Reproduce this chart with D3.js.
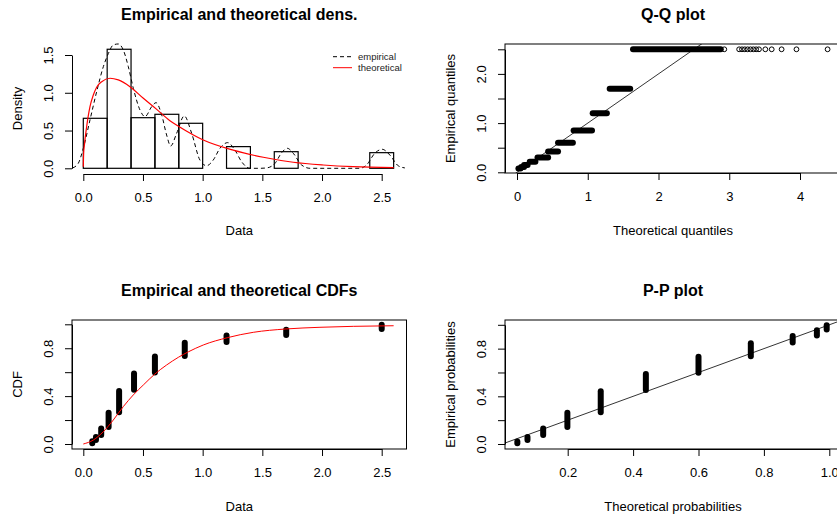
<!DOCTYPE html>
<html>
<head>
<meta charset="utf-8">
<script src="https://cdn.jsdelivr.net/npm/d3@7"></script>
<style>
body { margin: 0; background: #fff; }
svg { display: block; font-family: "Liberation Sans", Arial, sans-serif; }
</style>
</head>
<body>
<script>
// distinct observed values and the empirical cdf span of each group
var values = [0.075, 0.106, 0.15, 0.212, 0.3, 0.425, 0.6, 0.85, 1.2, 1.7, 2.5];
var ecdfLow = [0.006, 0.034, 0.075, 0.143, 0.266, 0.453, 0.598, 0.736, 0.852, 0.91, 0.96];
var ecdfHigh = [0.022, 0.059, 0.13, 0.262, 0.443, 0.588, 0.731, 0.845, 0.906, 0.955, 0.997];
// fitted cdf at each value (P-P plot x)
var theoProb = [0.046, 0.077, 0.125, 0.199, 0.301, 0.439, 0.6, 0.76, 0.888, 0.962, 0.992];
// theoretical quantile span of each group (Q-Q plot x)
var qqLow = [0.02, 0.06, 0.1, 0.18, 0.29, 0.44, 0.58, 0.8, 1.07, 1.31, 1.64];
var qqHigh = [0.05, 0.1, 0.15, 0.26, 0.44, 0.58, 0.79, 1.06, 1.27, 1.6, 2.88];
var qqTail = [2.93, 3.14, 3.18, 3.22, 3.26, 3.3, 3.34, 3.38, 3.42, 3.51, 3.6, 3.74, 3.95, 4.39];

// histogram
var histBreaks = [0, 0.2, 0.4, 0.6, 0.8, 1.0, 1.2, 1.4, 1.6, 1.8, 2.0, 2.2, 2.4, 2.6];
var histDensity = [0.662, 1.576, 0.67, 0.715, 0.596, 0, 0.287, 0, 0.22, 0, 0, 0, 0.207];

// empirical (kernel) density
var kdeX = [-0.089, -0.042, 0, 0.056, 0.112, 0.168, 0.21, 0.251, 0.293, 0.335, 0.377, 0.419, 0.475, 0.517, 0.573, 0.609, 0.657, 0.698, 0.732, 0.782, 0.846, 0.908, 0.977, 1.033, 1.089, 1.145, 1.209, 1.27, 1.326, 1.396, 1.48, 1.536, 1.606, 1.662, 1.709, 1.759, 1.829, 1.899, 2.317, 2.373, 2.443, 2.504, 2.568, 2.638, 2.694];
var kdeY = [0.005, 0.066, 0.265, 0.64, 1.015, 1.346, 1.52, 1.633, 1.646, 1.567, 1.346, 1.06, 0.772, 0.684, 0.816, 0.869, 0.706, 0.441, 0.295, 0.463, 0.693, 0.463, 0.11, 0.034, 0.11, 0.265, 0.34, 0.242, 0.088, 0, 0, 0.005, 0.066, 0.207, 0.265, 0.199, 0.044, 0, 0, 0.044, 0.2, 0.252, 0.176, 0.034, 0.005];

// fitted density
var densX = [0, 0.003, 0.008, 0.028, 0.056, 0.084, 0.112, 0.154, 0.224, 0.293, 0.391, 0.503, 0.615, 0.726, 0.804, 1.005, 1.256, 1.508, 1.759, 2.01, 2.261, 2.6];
var densY = [0.02, 0.2, 0.29, 0.55, 0.816, 0.97, 1.073, 1.147, 1.192, 1.17, 1.081, 0.927, 0.78, 0.63, 0.55, 0.375, 0.24, 0.146, 0.08, 0.044, 0.022, 0.01];

// fitted cdf
var cdfX = [0, 0.084, 0.168, 0.251, 0.335, 0.419, 0.503, 0.6, 0.698, 0.796, 0.88, 1.005, 1.206, 1.424, 1.698, 1.983, 2.262, 2.6];
var cdfY = [0, 0.033, 0.103, 0.2, 0.312, 0.41, 0.493, 0.585, 0.66, 0.724, 0.77, 0.827, 0.888, 0.933, 0.961, 0.975, 0.983, 0.988];

var dataTicks = [0, 0.5, 1, 1.5, 2, 2.5];

var svg = d3.select('body').append('svg')
  .attr('width', 837)
  .attr('height', 519);

var col = [{ x0: 72, x1: 406.5 }, { x0: 505, x1: 841 }];
var row = [{ y0: 44, y1: 173, title: 19.5 }, { y0: 320, y1: 449, title: 295.5 }];

var styleAxis = function(a) {
  a.attr('font-size', 13).attr('font-family', null);
  a.selectAll('line').attr('stroke', '#000');
  a.select('.domain').attr('stroke', '#000');
};

var xAxis = function(scale, y, ticks, fmt) {
  var a = svg.append('g')
    .attr('transform', 'translate(0,' + y + ')')
    .call(d3.axisBottom(scale).tickValues(ticks).tickFormat(fmt).tickSize(7).tickSizeOuter(0));
  a.selectAll('text').attr('y', 23.7).attr('dy', null).attr('dominant-baseline', 'central');
  styleAxis(a);
};

var yAxis = function(scale, x, ticks, fmt) {
  var a = svg.append('g')
    .attr('transform', 'translate(' + x + ',0)')
    .call(d3.axisLeft(scale).tickValues(ticks).tickFormat(fmt).tickSize(7).tickSizeOuter(0));
  a.selectAll('text')
    .attr('x', 0).attr('dy', null)
    .attr('transform', 'translate(-23.5,0) rotate(-90)')
    .attr('text-anchor', 'middle')
    .attr('dominant-baseline', 'central');
  styleAxis(a);
};

var labels = function(c, r, title, xlab, ylab) {
  var cx = (c.x0 + c.x1) / 2;
  svg.append('text').attr('x', cx).attr('y', r.title)
    .attr('text-anchor', 'middle').attr('font-weight', 'bold').attr('font-size', 16)
    .text(title);
  svg.append('text').attr('x', cx).attr('y', r.y1 + 57)
    .attr('text-anchor', 'middle').attr('dominant-baseline', 'central').attr('font-size', 13)
    .text(xlab);
  svg.append('text')
    .attr('transform', 'translate(' + (c.x0 - 55) + ',' + ((r.y0 + r.y1) / 2) + ') rotate(-90)')
    .attr('text-anchor', 'middle').attr('dominant-baseline', 'central').attr('font-size', 13)
    .text(ylab);
};

var box = function(c, r, id) {
  svg.append('clipPath').attr('id', id).append('rect')
    .attr('x', c.x0).attr('y', r.y0).attr('width', c.x1 - c.x0).attr('height', r.y1 - r.y0);
  svg.append('rect')
    .attr('x', c.x0).attr('y', r.y0).attr('width', c.x1 - c.x0).attr('height', r.y1 - r.y0)
    .attr('fill', 'none').attr('stroke', '#000');
  return svg.append('g').attr('clip-path', 'url(#' + id + ')');
};

var fmt1 = d3.format('.1f');
var onlyEvery = function(keep) {
  return function(d) { return keep.indexOf(d) >= 0 ? fmt1(d) : ''; };
};

// thick stacks of overlapping points
var stacks = function(g, segs) {
  g.selectAll(null).data(segs).enter().append('line')
    .attr('x1', function(d) { return d[0]; })
    .attr('y1', function(d) { return d[1]; })
    .attr('x2', function(d) { return d[2]; })
    .attr('y2', function(d) { return d[3]; })
    .attr('stroke', '#000')
    .attr('stroke-width', 6)
    .attr('stroke-linecap', 'round');
};

// ---------- panel 1: densities ----------
(function() {
  var c = col[0], r = row[0];
  var x = d3.scaleLinear().domain([0, 2.5]).range([83.3, 381.7]);
  var y = d3.scaleLinear().domain([0, 1.5]).range([168.3, 55]);

  svg.append('g').selectAll('rect').data(histDensity).enter().append('rect')
    .attr('x', function(d, i) { return x(histBreaks[i]); })
    .attr('y', function(d) { return y(d); })
    .attr('width', function(d, i) { return x(histBreaks[i + 1]) - x(histBreaks[i]); })
    .attr('height', function(d) { return y(0) - y(d); })
    .attr('fill', 'none')
    .attr('stroke', '#000')
    .attr('stroke-width', 1.2);

  var line = d3.line()
    .x(function(d) { return x(d[0]); })
    .y(function(d) { return y(d[1]); })
    .curve(d3.curveMonotoneX);

  svg.append('path')
    .attr('d', line(d3.zip(kdeX, kdeY)))
    .attr('fill', 'none').attr('stroke', '#000').attr('stroke-dasharray', '4,3');

  svg.append('path')
    .attr('d', line(d3.zip(densX, densY)))
    .attr('fill', 'none').attr('stroke', '#f00').attr('stroke-width', 1.2);

  xAxis(x, r.y1 + 1, dataTicks, fmt1);
  yAxis(y, c.x0, [0, 0.5, 1, 1.5], fmt1);
  labels(c, r, 'Empirical and theoretical dens.', 'Data', 'Density');

  var legend = [
    { name: 'empirical', color: '#000', dash: '4,3' },
    { name: 'theoretical', color: '#f00', dash: null }
  ];
  var lg = svg.append('g').selectAll('g').data(legend).enter().append('g')
    .attr('transform', function(d, i) { return 'translate(333,' + (56.7 + i * 11) + ')'; });
  lg.append('line').attr('x1', 0).attr('x2', 19)
    .attr('stroke', function(d) { return d.color; })
    .attr('stroke-dasharray', function(d) { return d.dash; });
  lg.append('text').attr('x', 25).attr('dominant-baseline', 'central')
    .attr('font-size', 9.5).attr('fill', '#222')
    .text(function(d) { return d.name; });
})();

// ---------- panel 2: Q-Q plot ----------
(function() {
  var c = col[1], r = row[0];
  var x = d3.scaleLinear().domain([0, 4]).range([517, 800]);
  var y = d3.scaleLinear().domain([0, 2.5]).range([172.3, 49.3]);
  var g = box(c, r, 'clip-qq');

  g.append('line')
    .attr('x1', x(-1)).attr('y1', y(-1)).attr('x2', x(5)).attr('y2', y(5))
    .attr('stroke', '#000').attr('stroke-width', 0.8);

  stacks(g, values.map(function(v, i) {
    return [x(qqLow[i]), y(v), x(qqHigh[i]), y(v)];
  }));

  g.selectAll('circle').data(qqTail).enter().append('circle')
    .attr('cx', function(d) { return x(d); })
    .attr('cy', y(values[values.length - 1]))
    .attr('r', 2.4)
    .attr('fill', 'none').attr('stroke', '#000');

  xAxis(x, r.y1, [0, 1, 2, 3, 4], d3.format('d'));
  yAxis(y, c.x0, [0, 0.5, 1, 1.5, 2, 2.5], onlyEvery([0, 1, 2]));
  labels(c, r, 'Q-Q plot', 'Theoretical quantiles', 'Empirical quantiles');
})();

// ---------- panel 3: CDFs ----------
(function() {
  var c = col[0], r = row[1];
  var x = d3.scaleLinear().domain([0, 2.5]).range([83.3, 381.7]);
  var y = d3.scaleLinear().domain([0, 1]).range([444, 324.3]);
  var g = box(c, r, 'clip-cdf');

  stacks(g, values.map(function(v, i) {
    return [x(v), y(ecdfLow[i]), x(v), y(ecdfHigh[i])];
  }));

  g.append('path')
    .attr('d', d3.line()
      .x(function(d) { return x(d[0]); })
      .y(function(d) { return y(d[1]); })
      .curve(d3.curveMonotoneX)(d3.zip(cdfX, cdfY)))
    .attr('fill', 'none').attr('stroke', '#f00');

  xAxis(x, r.y1, dataTicks, fmt1);
  yAxis(y, c.x0, [0, 0.2, 0.4, 0.6, 0.8, 1], onlyEvery([0, 0.4, 0.8]));
  labels(c, r, 'Empirical and theoretical CDFs', 'Data', 'CDF');
})();

// ---------- panel 4: P-P plot ----------
(function() {
  var c = col[1], r = row[1];
  var x = d3.scaleLinear().domain([0.2, 1]).range([567.7, 829.3]);
  var y = d3.scaleLinear().domain([0, 1]).range([444, 324.8]);
  var g = box(c, r, 'clip-pp');

  g.append('line')
    .attr('x1', x(-0.5)).attr('y1', y(-0.5)).attr('x2', x(1.5)).attr('y2', y(1.5))
    .attr('stroke', '#000').attr('stroke-width', 0.8);

  stacks(g, theoProb.map(function(p, i) {
    return [x(p), y(ecdfLow[i]), x(p), y(ecdfHigh[i])];
  }));

  xAxis(x, r.y1, [0.2, 0.4, 0.6, 0.8, 1], fmt1);
  yAxis(y, c.x0, [0, 0.2, 0.4, 0.6, 0.8, 1], onlyEvery([0, 0.4, 0.8]));
  labels(c, r, 'P-P plot', 'Theoretical probabilities', 'Empirical probabilities');
})();
</script>
</body>
</html>
